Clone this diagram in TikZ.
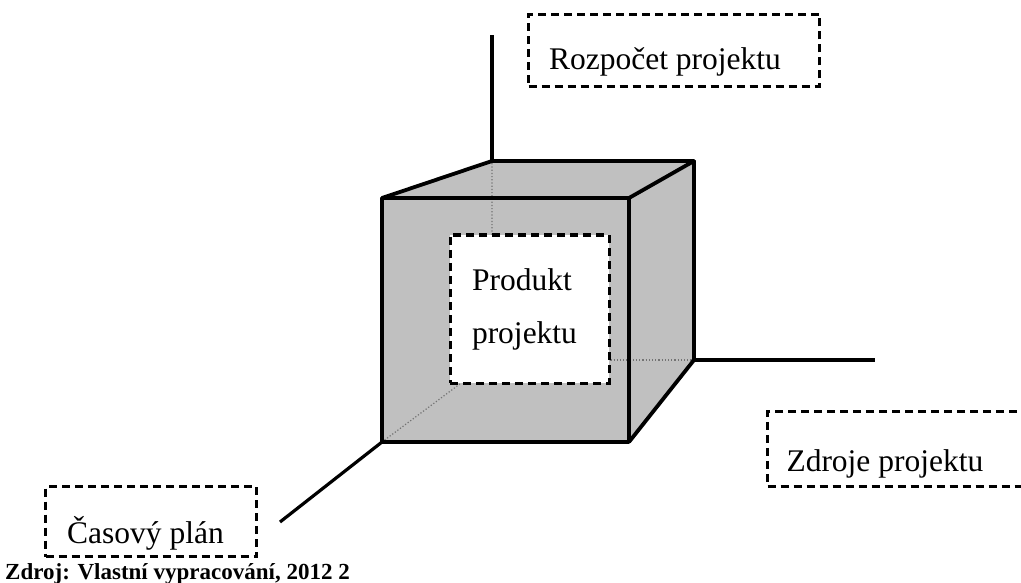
\documentclass[tikz,border=0pt]{standalone}
\usepackage{fontspec}
\setmainfont{Liberation Serif}
\usetikzlibrary{positioning}
\definecolor{cubegray}{RGB}{192,192,192}
\tikzstyle{edge} = [line width=3.8pt, line join=round]
\tikzstyle{axis} = [line width=3.2pt]
\tikzstyle{hidden} = [dotted, line width=1.2pt, black!55]
\tikzstyle{dimbox} = [draw=black, line width=3pt, dash pattern=on 8pt off 5pt, inner sep=0pt, font=\fontsize{31.5}{53}\selectfont]

\begin{document}
\begin{tikzpicture}[x=1pt, y=-1pt]%
				\useasboundingbox (0,0) rectangle (1021,583);%
				% cube corners
				\coordinate (ftl) at (382,198); \coordinate (ftr) at (629,198);%
				\coordinate (fbl) at (382,442); \coordinate (fbr) at (629,442);%
				\coordinate (btl) at (492,161); \coordinate (btr) at (694,161);%
				\coordinate (bbl) at (492,360); \coordinate (bbr) at (694,360);%
				% axis ends
				\coordinate (upend) at (492,35);%
				\coordinate (rightend) at (875,360);%
				\coordinate (leftend) at (280,522);%
				\fill[cubegray] (ftl) -- (btl) -- (btr) -- (bbr) -- (fbr) -- (fbl) -- cycle;%
				\draw[hidden] (fbl) -- (bbl) -- (btl);%
				\draw[hidden] (bbl) -- (bbr);%
				\node[dimbox, fill=white, text width=115pt, inner xsep=22pt, minimum height=148pt, align=left] (prod) at (529.5,309) {Produkt\\projektu};%
				\draw[edge] (fbl) rectangle (ftr);%
				\draw[edge] (ftl) -- (btl) -- (btr) -- (ftr);%
				\draw[edge] (btr) -- (bbr) -- (fbr);%
				\draw[axis] (btl) -- (upend);%
				\draw[axis] (bbr) -- (rightend);%
				\draw[axis] (fbl) -- (leftend);%
				% dimension labels
				\node[dimbox, anchor=north west, minimum width=291pt, text height=55pt, text depth=17pt] (budget) at (527,13) {\kern20pt Rozpočet projektu\kern38pt};%
				\node[dimbox, anchor=north west, text height=60pt, text depth=15pt] (resources) at (766,410) {\kern19pt Zdroje projektu\kern60pt};%
				\node[dimbox, anchor=north west, minimum width=211pt, text height=57pt, text depth=13pt] (schedule) at (44,485) {\kern20pt Časový plán\kern31pt};%
				\node[anchor=base west, inner sep=0pt, font=\fontsize{23}{27}\selectfont\bfseries] (source) at (5,579) {Zdroj: Vlastní vypracování, 2012 2};%
\end{tikzpicture}
\end{document}
